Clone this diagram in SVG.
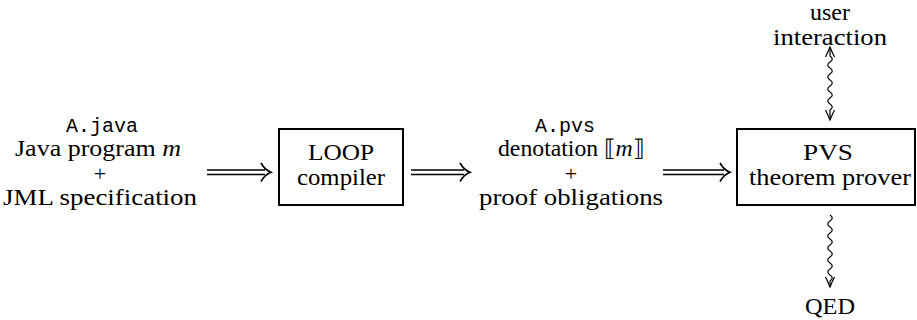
<svg xmlns="http://www.w3.org/2000/svg" width="917" height="320" viewBox="0 0 917 320">
<style>
.t{font-family:"Liberation Serif","DejaVu Serif",serif;font-size:23px;fill:#000;text-anchor:middle}
.p{font-family:"Liberation Serif","DejaVu Serif",serif;font-size:22px;fill:#000;text-anchor:middle}
.tt{font-family:"Liberation Mono","DejaVu Sans Mono",monospace;font-size:20px;fill:#000;text-anchor:middle}
.box{fill:none;stroke:#000;stroke-width:2}
.ln{fill:none;stroke:#000;stroke-width:1.6}
.sq{fill:none;stroke:#000;stroke-width:1.2}
</style>
<rect width="917" height="320" fill="#fff"/>
<g id="input">
<text class="tt" x="102" y="132">A.java</text>
<text class="t" x="98" y="156" textLength="166" lengthAdjust="spacingAndGlyphs">Java program <tspan font-style="italic">m</tspan></text>
<text class="p" x="100" y="181">+</text>
<text class="t" x="100" y="205" textLength="194" lengthAdjust="spacingAndGlyphs">JML specification</text>
</g>
<g id="loop">
<rect class="box" x="279" y="129" width="124" height="76"/>
<text class="t" x="341" y="160" textLength="66" lengthAdjust="spacingAndGlyphs">LOOP</text>
<text class="t" x="341" y="185" textLength="88" lengthAdjust="spacingAndGlyphs">compiler</text>
</g>
<g id="pvsfile">
<text class="tt" x="565" y="132">A.pvs</text>
<text class="t" x="571" y="156" textLength="146" lengthAdjust="spacingAndGlyphs">denotation ⟦<tspan font-style="italic">m</tspan>⟧</text>
<text class="p" x="571" y="181">+</text>
<text class="t" x="571" y="205" textLength="184" lengthAdjust="spacingAndGlyphs">proof obligations</text>
</g>
<g id="prover">
<rect class="box" x="737" y="129" width="178" height="76"/>
<text class="t" x="828" y="160" textLength="50" lengthAdjust="spacingAndGlyphs">PVS</text>
<text class="t" x="830" y="185" textLength="162" lengthAdjust="spacingAndGlyphs">theorem prover</text>
</g>
<g id="user">
<text class="t" x="830" y="20" textLength="40" lengthAdjust="spacingAndGlyphs">user</text>
<text class="t" x="830" y="45" textLength="114" lengthAdjust="spacingAndGlyphs">interaction</text>
</g>
<g id="qed">
<text class="t" x="830" y="314" textLength="50" lengthAdjust="spacingAndGlyphs">QED</text>
</g>
<g id="connectors">
<path class="ln" d="M207,170 H265 M207,174.5 H265 M261,163 Q265,170 271,172.2 Q265,174.5 261,181.5"/>
<path class="ln" d="M411,170 H464 M411,174.5 H464 M460,163 Q464,170 470,172.2 Q464,174.5 460,181.5"/>
<path class="ln" d="M663,170 H724 M663,174.5 H724 M720,163 Q724,170 730,172.2 Q724,174.5 720,181.5"/>
<path class="sq" d="M830,48 V56 q4.5,3 0,6 t0,6 t0,6 t0,6 t0,6 t0,6 t0,6 t0,6 t0,6 V120"/>
<path class="sq" d="M825.5,57 Q828,52 830,47 Q832,52 834.5,57"/>
<path class="sq" d="M825.5,110 Q828,115 830,120 Q832,115 834.5,110"/>
<path class="sq" d="M830,215 q4.5,3 0,6 t0,6 t0,6 t0,6 t0,6 t0,6 t0,6 t0,6 t0,6 t0,6 t0,6 V287"/>
<path class="sq" d="M825.5,277 Q828,282 830,287 Q832,282 834.5,277"/>
</g>
</svg>
